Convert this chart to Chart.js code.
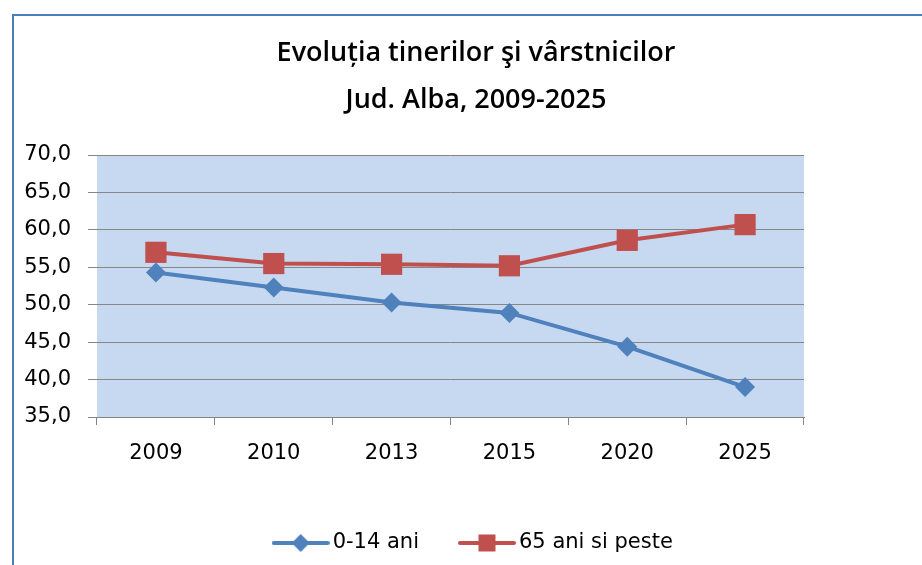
<!DOCTYPE html>
<html>
<head>
<meta charset="utf-8">
<script src="https://cdn.jsdelivr.net/npm/chart.js@4.4.1/dist/chart.umd.min.js"></script>
<style>
html, body { margin: 0; padding: 0; background: #fff; }
</style>
</head>
<body>
<canvas id="lineChart" width="922" height="565"></canvas>
<script>
// data
var years = ['2009', '2010', '2013', '2015', '2020', '2025'];
var tineri = [54.3, 52.3, 50.3, 48.9, 44.4, 39.0];       // 0-14 ani
var varstnici = [57.0, 55.5, 55.4, 55.2, 58.6, 60.7];   // 65 ani si peste
var yTicks = { min: 35, max: 70, step: 5 };

var blue = '#4f81bd';
var red = '#c0504d';

// little line+marker pictures for the legend
function legendIcon(color, shape) {
	var c = document.createElement('canvas');
	c.width = 58; c.height = 22;
	var g = c.getContext('2d');
	g.strokeStyle = color;
	g.lineWidth = 4;
	g.lineCap = 'round';
	g.beginPath(); g.moveTo(2, 11); g.lineTo(56, 11); g.stroke();
	g.fillStyle = color;
	if (shape == 'diamond') {
		g.beginPath(); g.moveTo(29, 2); g.lineTo(38, 11); g.lineTo(29, 20); g.lineTo(20, 11); g.closePath(); g.fill();
	} else {
		g.fillRect(20.5, 2.5, 17, 17);
	}
	return c;
}

var frame = {
	id: 'frame',
	beforeDraw: function(chart) {
		var ctx = chart.ctx, a = chart.chartArea;
		ctx.save();
		//plot area fill
		ctx.fillStyle = '#c6d9f1';
		ctx.fillRect(a.left, a.top, a.right - a.left, a.bottom - a.top);
		//outer border, only top and left are visible
		ctx.strokeStyle = '#4a7ebb';
		ctx.lineWidth = 2;
		ctx.beginPath();
		ctx.moveTo(13, 565); ctx.lineTo(13, 15); ctx.lineTo(922, 15);
		ctx.stroke();
		ctx.restore();
	}
};

var tickFont = { family: "'DejaVu Sans', sans-serif", size: 21 };

new Chart(document.getElementById('lineChart').getContext('2d'), {
	type: 'line',
	data: {
		labels: years,
		datasets: [{
			label: '0-14 ani',
			data: tineri,
			borderColor: blue,
			backgroundColor: blue,
			borderWidth: 4,
			pointStyle: 'rectRot',
			pointRadius: 10,
			pointBorderWidth: 0,
			tension: 0,
			legendIcon: legendIcon(blue, 'diamond')
		}, {
			label: '65 ani si peste',
			data: varstnici,
			borderColor: red,
			backgroundColor: red,
			borderWidth: 4,
			pointStyle: 'rect',
			pointRadius: 15,
			pointBorderWidth: 0,
			tension: 0,
			legendIcon: legendIcon(red, 'square')
		}]
	},
	options: {
		responsive: false,
		animation: false,
		// right pad below zero moves title and legend centre a bit to the right
		layout: { padding: { left: 20, right: -10, top: 0, bottom: 1.5 } },
		plugins: {
			title: {
				display: true,
				text: ['Evoluția tinerilor şi vârstnicilor', 'Jud. Alba, 2009-2025'],
				color: '#000',
				font: { family: "'Open Sans', sans-serif", size: 27, weight: '600', lineHeight: '47px' },
				padding: { top: 30, bottom: 31 }
			},
			legend: {
				position: 'bottom',
				labels: {
					color: '#000',
					font: tickFont,
					usePointStyle: true,
					pointStyleWidth: 43,
					padding: 46.5,
					generateLabels: function(chart) {
						return chart.data.datasets.map(function(ds, i) {
							return { text: ds.label, pointStyle: ds.legendIcon, datasetIndex: i, fontColor: '#000', lineWidth: 0, strokeStyle: 'transparent', fillStyle: 'transparent' };
						});
					}
				}
			},
			tooltip: { enabled: false }
		},
		scales: {
			x: {
				offset: true,
				grid: { offset: true, drawOnChartArea: false, color: '#868686', tickLength: 8 },
				border: { color: '#868686', width: 1 },
				ticks: { color: '#000', font: tickFont, padding: 16, maxRotation: 0 },
				afterFit: function(s) { s.height = 69; }
			},
			y: {
				min: yTicks.min,
				max: yTicks.max,
				grid: { color: '#868686', tickLength: 9 },
				border: { display: false },
				ticks: {
					stepSize: yTicks.step,
					color: '#000',
					font: tickFont,
					padding: 17,
					callback: function(v) { return v.toFixed(1).replace('.', ','); }
				},
				afterFit: function(s) { s.width = 77; }
			},
			// empty right axis, only keeps the white space right of the plot
			yRight: {
				position: 'right',
				display: true,
				grid: { display: false },
				border: { display: false },
				ticks: { display: false },
				afterFit: function(s) { s.width = 128; }
			}
		}
	},
	plugins: [frame]
});
</script>
</body>
</html>
